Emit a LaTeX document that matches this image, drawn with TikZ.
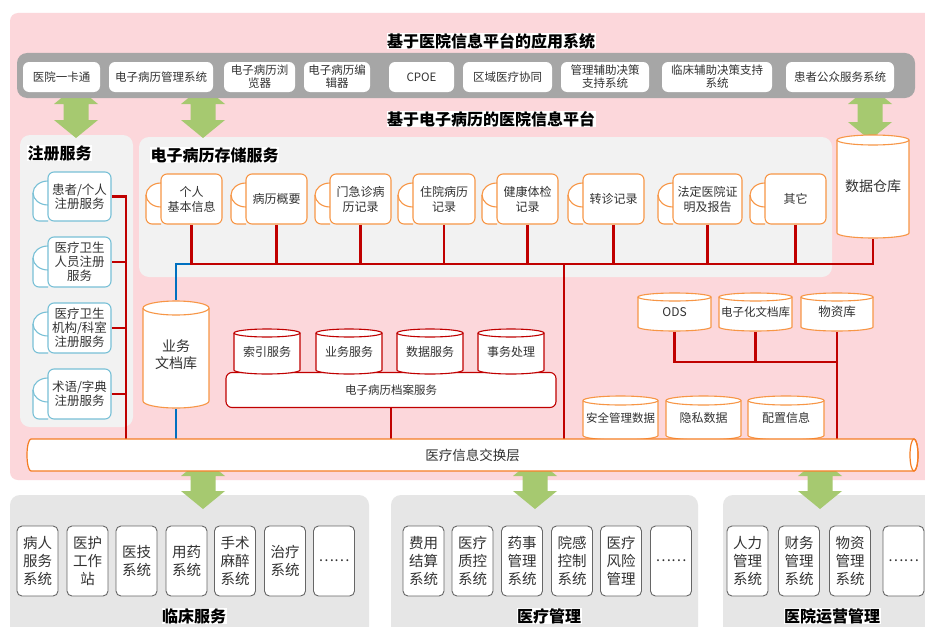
\documentclass[tikz,border=0pt]{standalone}
\usepackage{fontspec}
\setmainfont{Noto Sans CJK SC}
\usetikzlibrary{positioning}

\definecolor{bgpink}{RGB}{252,215,219}
\definecolor{bargray}{RGB}{166,166,166}
\definecolor{panelgray}{RGB}{242,242,242}
\definecolor{lowgray}{RGB}{230,230,230}
\definecolor{regblue}{RGB}{120,192,214}
\definecolor{storeorange}{RGB}{247,150,70}
\definecolor{layerorange}{RGB}{245,125,35}
\definecolor{linkred}{RGB}{192,0,0}
\definecolor{linkblue}{RGB}{0,112,192}
\definecolor{arrowgreen}{RGB}{166,201,112}
\definecolor{textgray}{RGB}{50,50,50}

\pgfdeclarelayer{bg}
\pgfdeclarelayer{lines}
\pgfsetlayers{bg,lines,main}

\tikzset{
  x=1pt, y=1pt,
  title/.style={font=\fontsize{16}{18}\selectfont\bfseries, fill=white, inner sep=0.5pt},
  appbox/.style={fill=white, rounded corners=6pt, align=center, inner sep=0pt,
    minimum height=30pt, font=\fontsize{11.5}{13}\selectfont, text=textgray},
  itembox/.style={fill=white, rounded corners=6pt, align=center, inner sep=0pt, text=textgray},
  regitem/.style={draw=regblue, line width=1.1pt, font=\fontsize{12.5}{14}\selectfont},
  storeitem/.style={draw=storeorange, line width=1.1pt, font=\fontsize{12}{15}\selectfont},
  bigdrum/.style={draw=storeorange, line width=1.1pt, font=\fontsize{14}{17}\selectfont},
  smalldrum/.style={draw=storeorange, line width=1.1pt, font=\fontsize{11.5}{13}\selectfont},
  reddrum/.style={draw=linkred, line width=1.1pt, font=\fontsize{12}{13}\selectfont},
  lowbox/.style={draw=black!60, line width=0.9pt, fill=white, rounded corners=5pt,
    minimum width=41pt, minimum height=70pt, inner sep=0pt, align=center,
    font=\fontsize{14.5}{18}\selectfont, text=textgray},
  redline/.style={draw=linkred, line width=2.2pt},
  blueline/.style={draw=linkblue, line width=2pt},
}

% drum: name, left, top, right, bottom, half height of the ellipse, style, text
\newcommand{\drum}[8]{%
  \pgfmathsetmacro\drx{(#4-#2)/2}
  \draw[#7, fill=white] (#2,-#3-#6) -- (#2,-#5+#6)
    arc[start angle=180, end angle=360, x radius=\drx, y radius=#6]
    -- (#4,-#3-#6)
    arc[start angle=0, end angle=180, x radius=\drx, y radius=#6] -- cycle;
  \draw[#7] (#2,-#3-#6) arc[start angle=180, end angle=360, x radius=\drx, y radius=#6];
  \node[#7, draw=none, align=center, inner sep=0pt, text=textgray,
    minimum width={(#4-#2)*1pt}, minimum height={(#5-#3)*1pt}]
    (#1) at ({(#2+#4)/2},{-(#3+#5)/2}) {#8};
}

% stacked record: name, left, top, right, bottom, style, text
\newcommand{\record}[7]{%
  \draw[#6, fill=white] (#2,-#3-9)
    arc[start angle=90, end angle=180, x radius=15, y radius=12]
    -- (#2-15,-#5+6) arc[start angle=180, end angle=270, radius=6] -- (#2,-#5);
  \draw[#6] (#2-15,-#3-21) arc[start angle=180, end angle=270, x radius=15, y radius=12];
  \node[#6, itembox, minimum width={(#4-#2)*1pt}, minimum height={(#5-#3)*1pt}]
    (#1) at ({(#2+#4)/2},{-(#3+#5)/2}) {#7};
}

% green double arrow: centre x, top, bottom
\newcommand{\dblarrow}[3]{%
  \fill[arrowgreen] (#1,-#2) -- (#1+22,-#2-18) -- (#1+12.5,-#2-18) -- (#1+12.5,-#3+18)
    -- (#1+22,-#3+18) -- (#1,-#3) -- (#1-22,-#3+18) -- (#1-12.5,-#3+18)
    -- (#1-12.5,-#2-18) -- (#1-22,-#2-18) -- cycle;
}

\begin{document}
\begin{tikzpicture}

    \clip (0,0) rectangle (925,-626);

    %% Backdrop
    \begin{pgfonlayer}{bg}
    \fill[white] (0,0) rectangle (925,-626);
    \fill[bgpink, rounded corners=8pt] (10,-13) rectangle (940,-480);
    \fill[panelgray, rounded corners=10pt] (20,-135) rectangle (133,-427);
    \fill[panelgray, rounded corners=10pt] (139,-137) rectangle (832,-277);
    \fill[lowgray, rounded corners=10pt] (10,-495) rectangle (369,-640);
    \fill[lowgray, rounded corners=10pt] (391,-495) rectangle (698,-640);
    \fill[lowgray, rounded corners=10pt] (723,-495) rectangle (940,-640);
    \dblarrow{76}{86}{138}
    \dblarrow{203}{86}{138}
    \dblarrow{870}{86}{140}
    \dblarrow{203}{458}{509}
    \dblarrow{535}{458}{509}
    \dblarrow{820}{458}{509}
    \end{pgfonlayer}

    %% Application systems
    \node[title] (apptitle) at (491,-41) {基于医院信息平台的应用系统};
    \fill[bargray, rounded corners=10pt] (17,-53) rectangle (915,-98);
    \node[appbox, minimum width=77pt] (a1) at (61.5,-77) {医院一卡通};
    \node[appbox, minimum width=104pt] (a2) at (161,-77) {电子病历管理系统};
    \node[appbox, minimum width=71pt] (a3) at (259.5,-77) {电子病历浏\\览器};
    \node[appbox, minimum width=66pt] (a4) at (337,-77) {电子病历编\\辑器};
    \node[appbox, minimum width=65pt] (a5) at (421.5,-77) {CPOE};
    \node[appbox, minimum width=89pt] (a6) at (507.5,-77) {区域医疗协同};
    \node[appbox, minimum width=88pt] (a7) at (605,-77) {管理辅助决策\\支持系统};
    \node[appbox, minimum width=110pt] (a8) at (717,-77) {临床辅助决策支持\\系统};
    \node[appbox, minimum width=108pt] (a9) at (840,-77) {患者公众服务系统};

    \node[title] (ptitle) at (491,-119) {基于电子病历的医院信息平台};

    %% Registration services
    \node[title, anchor=west] (regtitle) at (27,-153) {注册服务};
    \record{r1}{48}{172}{111}{221}{regitem}{患者/个人\\注册服务}
    \record{r2}{48}{237}{111}{287}{regitem}{医疗卫生\\人员注册\\服务}
    \record{r3}{48}{303}{111}{353}{regitem}{医疗卫生\\机构/科室\\注册服务}
    \record{r4}{48}{369}{111}{419}{regitem}{术语/字典\\注册服务}

    %% Storage services
    \node[title, anchor=west] (storetitle) at (150,-155) {电子病历存储服务};
    \record{s1}{161}{174}{222}{224}{storeitem}{个人\\基本信息}
    \record{s2}{246}{174}{307}{224}{storeitem}{病历概要}
    \record{s3}{330}{174}{391}{224}{storeitem}{门急诊病\\历记录}
    \record{s4}{413}{174}{475}{224}{storeitem}{住院病历\\记录}
    \record{s5}{497}{174}{558}{224}{storeitem}{健康体检\\记录}
    \record{s6}{583}{174}{644}{224}{storeitem}{转诊记录}
    \record{s7}{673}{174}{742}{224}{storeitem}{法定医院证\\明及报告}
    \record{s8}{765}{174}{826}{224}{storeitem}{其它}
    \drum{dw}{837}{135}{909}{238}{5}{bigdrum}{数据仓库}

    %% Document stores
    \drum{bd}{143}{301}{209}{408}{7}{bigdrum}{业务\\文档库}
    \node[itembox, draw=linkred, line width=1.1pt, minimum width=330pt, minimum height=35pt,
      font=\fontsize{11.5}{13}\selectfont] (ar) at (391,-390) {\raisebox{-4pt}{电子病历档案服务}};
    \drum{ix}{234}{329}{300}{374}{4}{reddrum}{索引服务}
    \drum{bs}{316}{329}{382}{374}{4}{reddrum}{业务服务}
    \drum{ds}{397}{329}{463}{374}{4}{reddrum}{数据服务}
    \drum{tx}{478}{329}{544}{374}{4}{reddrum}{事务处理}

    \drum{ods}{638}{293}{711}{331}{4}{smalldrum}{\fontsize{12}{13}\selectfont ODS}
    \drum{edoc}{719}{293}{792}{331}{4}{smalldrum}{电子化文档库}
    \drum{wz}{801}{293}{873}{331}{4}{smalldrum}{\fontsize{12.5}{13}\selectfont 物资库}
    \drum{sec}{583}{396}{658}{440}{4.5}{smalldrum}{安全管理数据}
    \drum{priv}{666}{396}{741}{440}{4.5}{smalldrum}{\fontsize{12}{13}\selectfont 隐私数据}
    \drum{cfg}{748}{396}{824}{440}{4.5}{smalldrum}{\fontsize{12}{13}\selectfont 配置信息}

    %% Exchange layer
    \draw[layerorange, line width=1.2pt, fill=white] (31,-439) -- (914,-439)
      arc[start angle=90, end angle=-90, x radius=4, y radius=16] -- (31,-471)
      arc[start angle=270, end angle=90, x radius=4, y radius=16] -- cycle;
    \draw[layerorange, line width=1.2pt] (914,-455) ellipse[x radius=4, y radius=16];
    \node[minimum width=891pt, minimum height=32pt, inner sep=0pt, text=textgray,
      font=\fontsize{13.5}{15}\selectfont] (xl) at (472.5,-455) {医疗信息交换层};

    %% Links
    \coordinate (rbus) at (126,-197);
    \coordinate (sbus) at (0,-264);
    \coordinate (sdrop) at (564,-264);
    \coordinate (obus) at (0,-362);
    \begin{pgfonlayer}{lines}
    \draw[blueline] (s1.south |- sbus) -| (bd.north);
    \draw[blueline] (bd.south) -- (bd.south |- xl.north);
    \draw[redline] (r1.east) -| (rbus |- xl.north);
    \draw[redline] (r2.east) -- (r2.east -| rbus);
    \draw[redline] (r3.east) -- (r3.east -| rbus);
    \draw[redline] (r4.east) -- (r4.east -| rbus);
    \draw[redline] (s1.south) |- (dw.south |- sbus) -- (dw.south);
    \draw[redline] (s2.south) -- (s2.south |- sbus);
    \draw[redline] (s3.south) -- (s3.south |- sbus);
    \draw[redline] (s4.south) -- (s4.south |- sbus);
    \draw[redline] (s5.south) -- (s5.south |- sbus);
    \draw[redline] (s6.south) -- (s6.south |- sbus);
    \draw[redline] (s7.south) -- (s7.south |- sbus);
    \draw[redline] (s8.south) -- (s8.south |- sbus);
    \draw[redline] (sdrop) -- (sdrop |- xl.north);
    \draw[redline] (ar.south) -- (ar.south |- xl.north);
    \draw[redline] (ods.south) |- (obus -| wz.south);
    \draw[redline] (edoc.south) -- (edoc.south |- obus);
    \draw[redline] (wz.south) -- (wz.south |- xl.north);
    \end{pgfonlayer}

    %% Clinical services
    \node[lowbox] (c1) at (37.5,-561) {病人\\服务\\系统};
    \node[lowbox] (c2) at (87.5,-561) {医护\\工作\\站};
    \node[lowbox] (c3) at (136.5,-561) {医技\\系统};
    \node[lowbox] (c4) at (186.5,-561) {用药\\系统};
    \node[lowbox] (c5) at (235,-561) {手术\\麻醉\\系统};
    \node[lowbox] (c6) at (285,-561) {治疗\\系统};
    \node[lowbox] (c7) at (334,-561) {……};
    \node[title] (ctitle) at (194,-616) {临床服务};

    %% Medical management
    \node[lowbox] (m1) at (423.5,-561) {费用\\结算\\系统};
    \node[lowbox] (m2) at (472.5,-561) {医疗\\质控\\系统};
    \node[lowbox] (m3) at (522,-561) {药事\\管理\\系统};
    \node[lowbox] (m4) at (572,-561) {院感\\控制\\系统};
    \node[lowbox] (m5) at (621,-561) {医疗\\风险\\管理};
    \node[lowbox] (m6) at (671,-561) {……};
    \node[title] (mtitle) at (549,-616) {医疗管理};

    %% Hospital operations
    \node[lowbox] (o1) at (747.5,-561) {人力\\管理\\系统};
    \node[lowbox] (o2) at (799,-561) {财务\\管理\\系统};
    \node[lowbox] (o3) at (850,-561) {物资\\管理\\系统};
    \node[lowbox] (o4) at (903.5,-561) {……};
    \node[title] (otitle) at (832,-616) {医院运营管理};

\end{tikzpicture}
\end{document}
